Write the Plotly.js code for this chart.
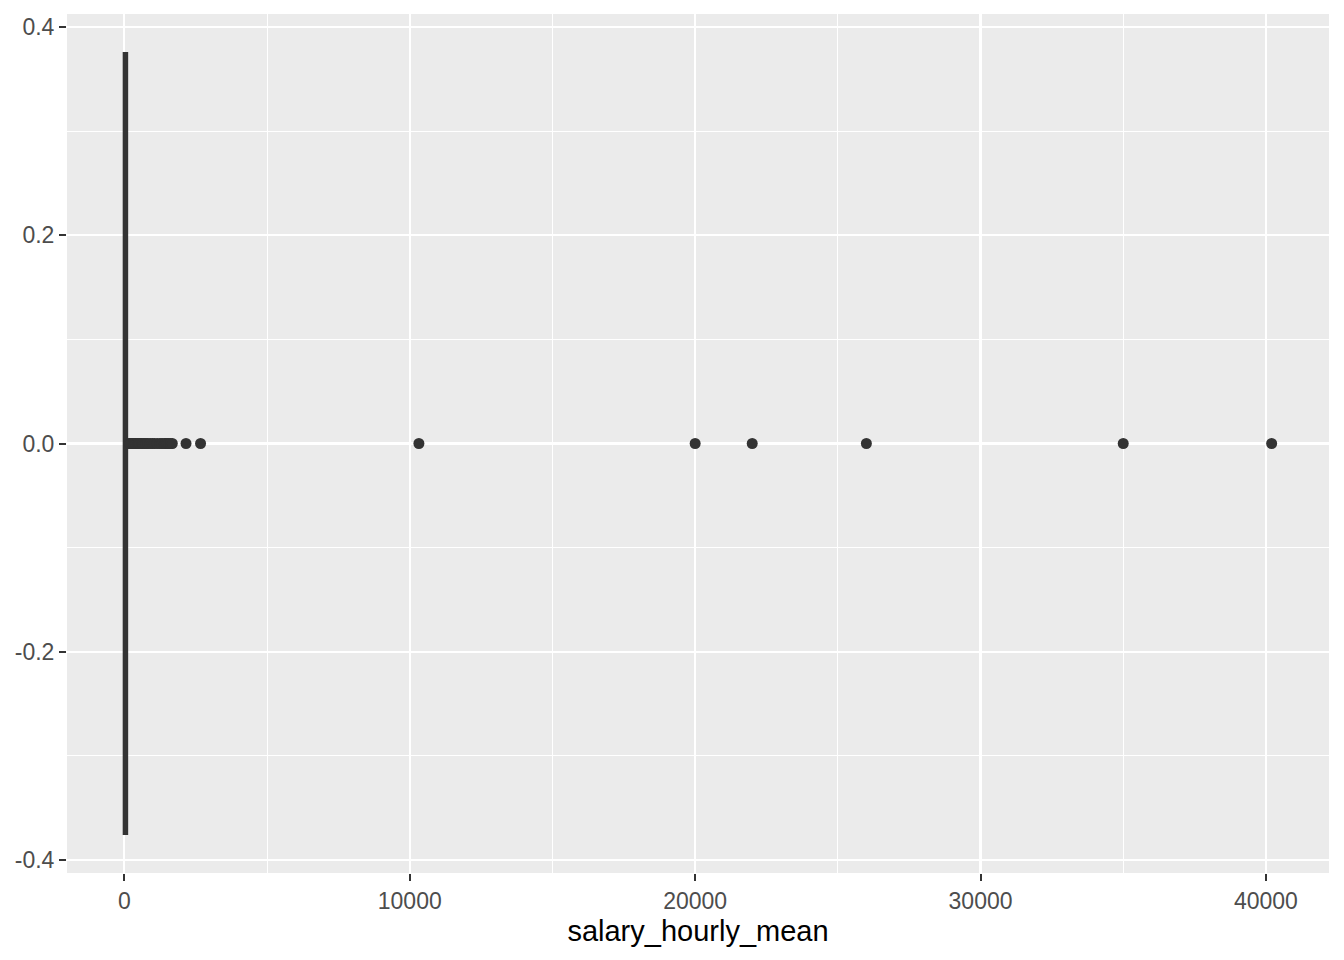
<!DOCTYPE html>
<html>
<head>
<meta charset="utf-8">
<script src="https://cdn.plot.ly/plotly-3.0.1.min.js"></script>
<style>html,body{margin:0;padding:0;background:#fff;}#chart{width:1344px;height:960px;}</style>
</head>
<body>
<div id="chart"></div>
<script>
// Box statistics (salary_hourly_mean)
const boxPosition = [0];
const boxQ1 = [-20];
const boxMedian = [25];
const boxQ3 = [95];
const boxLowerFence = [-20];
const boxUpperFence = [160];

// Outlier values
const outlierValues = [
  170, 200, 230, 260, 300, 340, 380, 420, 460, 500, 550, 600, 650, 700, 760,
  820, 900, 980, 1050, 1150, 1250, 1320, 1400, 1450, 1500, 1560, 1620, 1680,
  2160, 2670, 10320, 20000, 22000, 26000, 35000, 40200
];
const outlierLevel = outlierValues.map(() => 0);

const xTickVals = [0, 10000, 20000, 30000, 40000];
const xTickText = ["0", "10000", "20000", "30000", "40000"];
const yTickVals = [-0.4, -0.2, 0, 0.2, 0.4];
const yTickText = ["-0.4", "-0.2", "0.0", "0.2", "0.4"];

const traces = [
  {
    type: 'scatter', mode: 'markers',
    x: outlierValues, y: outlierLevel,
    marker: {color: '#333333', size: 11},
    hoverinfo: 'x', showlegend: false, cliponaxis: false
  },
  {
    type: 'box', orientation: 'h',
    y: boxPosition,
    q1: boxQ1, median: boxMedian, q3: boxQ3,
    lowerfence: boxLowerFence, upperfence: boxUpperFence,
    width: 0.75, whiskerwidth: 0,
    boxpoints: false,
    fillcolor: '#FFFFFF',
    line: {color: '#333333', width: 2.2},
    showlegend: false
  }
];

const axisFont = {family: 'Liberation Sans, Arial, sans-serif', size: 23, color: '#4D4D4D'};

const layout = {
  width: 1344, height: 960,
  margin: {l: 67, r: 15, t: 14, b: 87},
  paper_bgcolor: '#FFFFFF',
  plot_bgcolor: '#EBEBEB',
  showlegend: false,
  font: {family: 'Liberation Sans, Arial, sans-serif'},
  xaxis: {
    range: [-2010, 42210],
    tickvals: xTickVals, ticktext: xTickText,
    ticks: 'outside', ticklen: 7, tickwidth: 2, tickcolor: '#333333',
    tickfont: axisFont,
    showgrid: true, gridcolor: '#FFFFFF', gridwidth: 2.2,
    minor: {dtick: 5000, tick0: 0, showgrid: true, gridcolor: '#FFFFFF', gridwidth: 1.1, ticks: ''},
    zeroline: false, showline: false,
    title: {text: 'salary_hourly_mean', font: {family: 'Liberation Sans, Arial, sans-serif', size: 29, color: '#000000'}, standoff: 8}
  },
  yaxis: {
    range: [-0.4125, 0.4125],
    tickvals: yTickVals, ticktext: yTickText,
    ticks: 'outside', ticklen: 7, tickwidth: 2, tickcolor: '#333333',
    tickfont: axisFont,
    showgrid: true, gridcolor: '#FFFFFF', gridwidth: 2.2,
    minor: {dtick: 0.1, tick0: 0, showgrid: true, gridcolor: '#FFFFFF', gridwidth: 1.1, ticks: ''},
    zeroline: false, showline: false
  }
};

Plotly.newPlot('chart', traces, layout, {staticPlot: true, displayModeBar: false});
</script>
</body>
</html>
